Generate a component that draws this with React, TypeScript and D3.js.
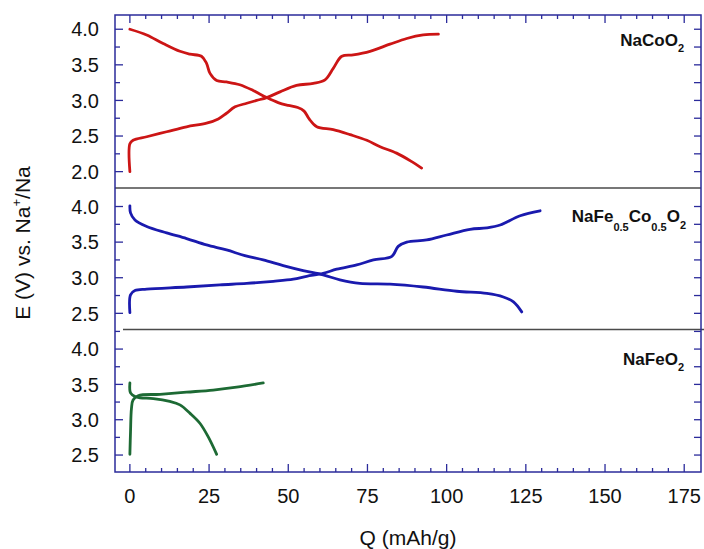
import * as d3 from 'd3';

// Q (mAh/g), E (V) pairs
const coDischarge = [
  [0, 4.0], [5.3, 3.92], [10.5, 3.8], [15.8, 3.69], [19, 3.65], [22.6, 3.62], [24.2, 3.52],
  [25.3, 3.38], [27.4, 3.28], [30.5, 3.26], [34.7, 3.22], [38.9, 3.14], [43.2, 3.04],
  [46.8, 2.97], [50, 2.93], [53, 2.9], [55, 2.85], [56.6, 2.74], [59, 2.63], [64.2, 2.59],
  [69.5, 2.52], [74.8, 2.44], [79, 2.35], [84.2, 2.26], [89, 2.14], [92.1, 2.05],
];
const coCharge = [
  [0, 2.0], [0, 2.39], [1, 2.44], [5.3, 2.49], [11.6, 2.56], [17.9, 2.63], [24.2, 2.68],
  [27.9, 2.74], [30.5, 2.82], [33.2, 2.91], [36.9, 2.96], [40, 3.0], [43.2, 3.04], [47.4, 3.12],
  [52.6, 3.21], [57.9, 3.24], [61.6, 3.29], [64.2, 3.45], [66.9, 3.62], [70.5, 3.64],
  [75.8, 3.69], [82.1, 3.79], [87.4, 3.87], [92.6, 3.92], [97.4, 3.93],
];
const feCoDischarge = [
  [0, 4.01], [0.2, 3.91], [1.6, 3.81], [5.3, 3.72], [11.6, 3.63], [17.9, 3.55], [24.2, 3.46],
  [30.5, 3.39], [36.3, 3.31], [42.1, 3.25], [48.4, 3.17], [54.7, 3.1], [61, 3.04], [66.3, 2.97],
  [72.6, 2.92], [82.1, 2.91], [92.6, 2.87], [103.2, 2.81], [112.7, 2.78], [117.9, 2.73],
  [121.1, 2.66], [123.7, 2.52],
];
const feCoCharge = [
  [0, 2.51], [0.2, 2.76], [1.6, 2.82], [5.3, 2.84], [17.9, 2.87], [28.4, 2.9], [36.9, 2.92],
  [45.3, 2.95], [51.6, 2.98], [55.8, 3.02], [61, 3.06], [65.3, 3.12], [71.6, 3.18], [76.9, 3.25],
  [82.7, 3.3], [84.7, 3.44], [87.4, 3.5], [93.7, 3.53], [100, 3.6], [107.4, 3.68],
  [112.7, 3.7], [116.9, 3.74], [123.2, 3.87], [129.5, 3.94],
];
const feDischarge = [
  [0, 3.52], [0.2, 3.38], [1.6, 3.33], [3.2, 3.31], [7.4, 3.3], [12.6, 3.26], [15.8, 3.21],
  [19, 3.09], [22.1, 2.95], [24.7, 2.76], [27.4, 2.51],
];
const feCharge = [
  [0, 2.51], [0.2, 2.83], [0.5, 3.16], [1, 3.28], [2.6, 3.34], [9.5, 3.36], [17.9, 3.39],
  [26.3, 3.42], [33.7, 3.46], [42.1, 3.52],
];

const xTicks = d3.range(0, 180, 5);
const xLabels = [0, 25, 50, 75, 100, 125, 150, 175];
const topTicks = d3.range(2.0, 4.01, 0.25);
const midTicks = d3.range(2.5, 4.01, 0.25);
const lowTicks = d3.range(2.5, 4.26, 0.25);
const topLabels = [2.0, 2.5, 3.0, 3.5, 4.0];
const lowLabels = [2.5, 3.0, 3.5, 4.0];

const NAVY = '#2b2b9b';
const FONT = 'Arial, "Liberation Sans", sans-serif';

const L = 115, R = 701, T = 15, B = 472;

const x = d3.scaleLinear().domain([-4.7, 180.3]).range([L, R]);

const panels = [
  { y: d3.scaleLinear().domain([1.77, 4.2]).range([188, 15]), ticks: topTicks, labels: topLabels,
    color: '#cc1515', curves: [coDischarge, coCharge] },
  { y: d3.scaleLinear().domain([2.28, 4.26]).range([329, 188]), ticks: midTicks, labels: lowLabels,
    color: '#1a1aae', curves: [feCoDischarge, feCoCharge] },
  { y: d3.scaleLinear().domain([2.26, 4.27]).range([472, 330]), ticks: lowTicks, labels: lowLabels,
    color: '#1d6a34', curves: [feDischarge, feCharge] },
];

const isMajor = (v: number) => Math.abs(v * 2 - Math.round(v * 2)) < 1e-6;

export default function App() {
  return (
    <svg width={704} height={549} style={{ display: 'block', position: 'absolute', left: 0, top: 0, background: '#fff' }}>
      {/* curves */}
      {panels.map((p, i) => {
        const line = d3.line<number[]>().x(d => x(d[0])).y(d => p.y(d[1])).curve(d3.curveCatmullRom.alpha(0.5));
        return p.curves.map((c, j) => (
          <path key={`${i}-${j}`} d={line(c) || ''} fill="none" stroke={p.color} strokeWidth={2.8}
            strokeLinejoin="round" strokeLinecap="round" />
        ));
      })}

      {/* panel separators */}
      <line x1={L} x2={R} y1={188} y2={188} stroke="#4a4a4a" strokeWidth={1.5} />
      <line x1={123} x2={704} y1={329.5} y2={329.5} stroke="#4a4a4a" strokeWidth={1.5} />

      {/* frame */}
      <rect x={L} y={T} width={R - L} height={B - T} fill="none" stroke={NAVY} strokeWidth={1.5} />

      {/* x ticks top & bottom */}
      {xTicks.map(v => {
        const len = v % 25 === 0 ? 8 : 4;
        return (
          <g key={v} stroke={NAVY} strokeWidth={1.3}>
            <line x1={x(v)} x2={x(v)} y1={T} y2={T + len} />
            <line x1={x(v)} x2={x(v)} y1={B} y2={B - len} />
          </g>
        );
      })}
      {xLabels.map(v => (
        <text key={v} x={x(v)} y={503} textAnchor="middle" fontFamily={FONT} fontSize={20} fill="#111">{v}</text>
      ))}

      {/* y ticks per panel */}
      {panels.map((p, i) => (
        <g key={i}>
          {p.ticks.map(v => (
            <g key={v} stroke={NAVY} strokeWidth={1.3}>
              <line x1={L} x2={L + (isMajor(v) ? 8 : 5)} y1={p.y(v)} y2={p.y(v)} />
              <line x1={R} x2={R - 7} y1={p.y(v)} y2={p.y(v)} />
            </g>
          ))}
          {p.labels.map(v => (
            <text key={v} x={99} y={p.y(v)} dy="0.36em" textAnchor="end" fontFamily={FONT} fontSize={20} fill="#111">
              {v.toFixed(1)}
            </text>
          ))}
        </g>
      ))}

      {/* panel labels */}
      <text x={684} y={46} textAnchor="end" fontFamily={FONT} fontSize={17} fontWeight="bold" fill="#111">
        NaCoO<tspan fontSize={11} dy={6}>2</tspan>
      </text>
      <text x={686} y={222} textAnchor="end" fontFamily={FONT} fontSize={17} fontWeight="bold" fill="#111">
        NaFe<tspan fontSize={11} dy={9}>0.5</tspan><tspan dy={-9}>Co</tspan><tspan fontSize={11} dy={9}>0.5</tspan><tspan dy={-9}>O</tspan><tspan fontSize={11} dy={7}>2</tspan>
      </text>
      <text x={684} y={365} textAnchor="end" fontFamily={FONT} fontSize={17} fontWeight="bold" fill="#111">
        NaFeO<tspan fontSize={11} dy={6}>2</tspan>
      </text>

      {/* axis titles */}
      <text x={(L + R) / 2} y={545} textAnchor="middle" fontFamily={FONT} fontSize={21} fill="#111">Q (mAh/g)</text>
      <text transform="translate(30,243) rotate(-90)" textAnchor="middle" fontFamily={FONT} fontSize={21} fill="#111">
        E (V) vs. Na<tspan fontSize={13} dy={-9}>+</tspan><tspan dy={9}>/Na</tspan>
      </text>
    </svg>
  );
}
